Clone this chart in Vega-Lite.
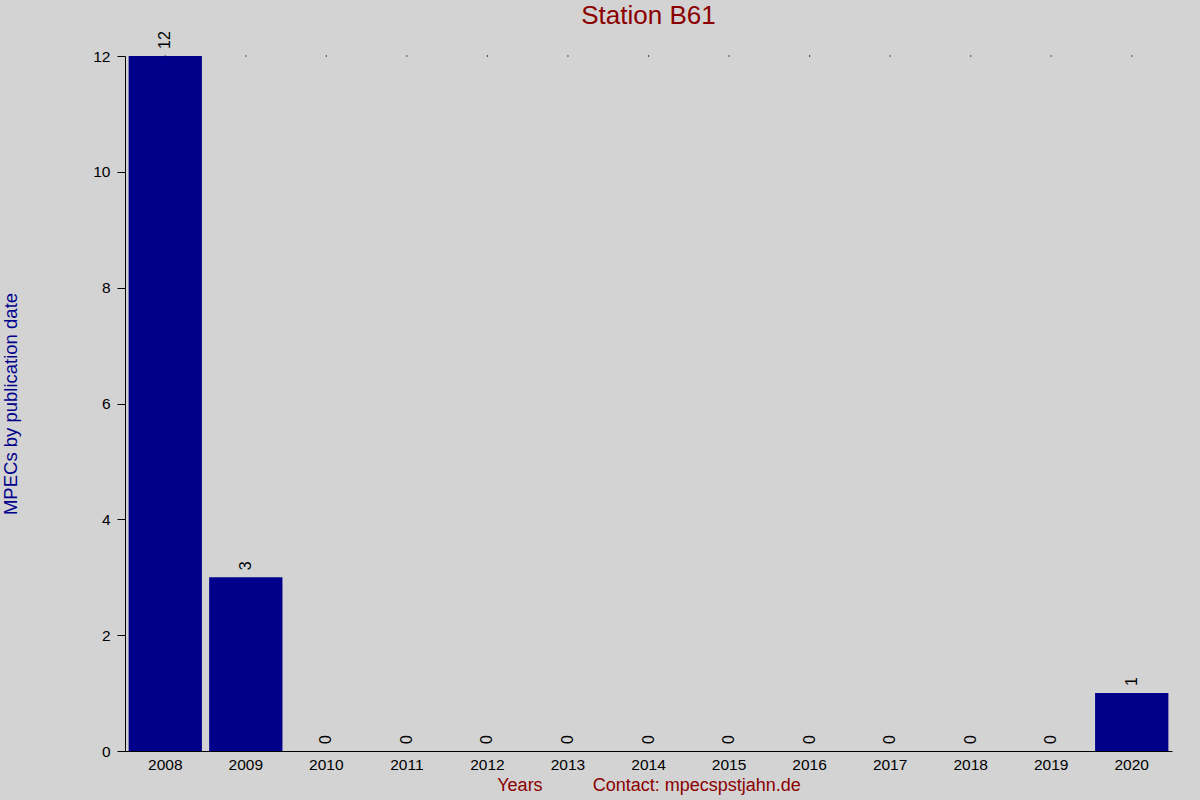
{
  "$schema": "https://vega.github.io/schema/vega-lite/v6.json",
  "width": 1047,
  "height": 695,
  "autosize": {"type": "none"},
  "padding": {"left": 125, "top": 56, "right": 28, "bottom": 49},
  "background": "#d3d3d3",
  "config": {
    "view": {"stroke": null},
    "font": "Liberation Sans",
    "axis": {"grid": false, "domainColor": "#000000", "tickColor": "#000000", "labelColor": "#000000", "labelFont": "Liberation Sans", "titleFont": "Liberation Sans"}
  },
  "title": {
    "text": "Station B61",
    "fontSize": 26,
    "fontWeight": "normal",
    "color": "#8b0000",
    "font": "Liberation Sans",
    "anchor": "middle",
    "offset": 2
  },
  "data": {
    "values": [
      {"year": "2008", "count": 12},
      {"year": "2009", "count": 3},
      {"year": "2010", "count": 0},
      {"year": "2011", "count": 0},
      {"year": "2012", "count": 0},
      {"year": "2013", "count": 0},
      {"year": "2014", "count": 0},
      {"year": "2015", "count": 0},
      {"year": "2016", "count": 0},
      {"year": "2017", "count": 0},
      {"year": "2018", "count": 0},
      {"year": "2019", "count": 0},
      {"year": "2020", "count": 1}
    ]
  },
  "encoding": {
    "x": {
      "field": "year",
      "type": "ordinal",
      "scale": {"paddingInner": 0.09, "paddingOuter": 0.045},
      "axis": {
        "title": "Years\u00a0\u00a0\u00a0\u00a0\u00a0\u00a0\u00a0\u00a0\u00a0\u00a0Contact: mpecspstjahn.de",
        "titleColor": "#8b0000",
        "titleFontSize": 18,
        "titleFontWeight": "normal",
        "titlePadding": 4,
        "labelAngle": 0,
        "labelFontSize": 15.5,
        "labelPadding": 6,
        "ticks": false
      }
    }
  },
  "layer": [
    {
      "mark": {"type": "bar", "color": "#00008b"},
      "encoding": {
        "y": {
          "field": "count",
          "type": "quantitative",
          "scale": {"domain": [0, 12], "nice": false},
          "axis": {
            "values": [0, 2, 4, 6, 8, 10, 12],
            "format": "d",
            "title": "MPECs by publication date",
            "titleColor": "#00008b",
            "titleFontSize": 18.5,
            "titleFontWeight": "normal",
            "titlePadding": 72,
            "labelFontSize": 15.5,
            "labelPadding": 7,
            "tickSize": 8
          }
        }
      }
    },
    {
      "mark": {"type": "text", "angle": -90, "align": "left", "baseline": "middle", "dx": 7, "fontSize": 16, "color": "#000000"},
      "encoding": {
        "y": {"field": "count", "type": "quantitative"},
        "text": {"field": "count", "type": "quantitative"}
      }
    },
    {
      "mark": {"type": "point", "shape": "square", "filled": true, "size": 1.5, "color": "#000000", "opacity": 1},
      "encoding": {
        "y": {"datum": 12}
      }
    }
  ]
}
